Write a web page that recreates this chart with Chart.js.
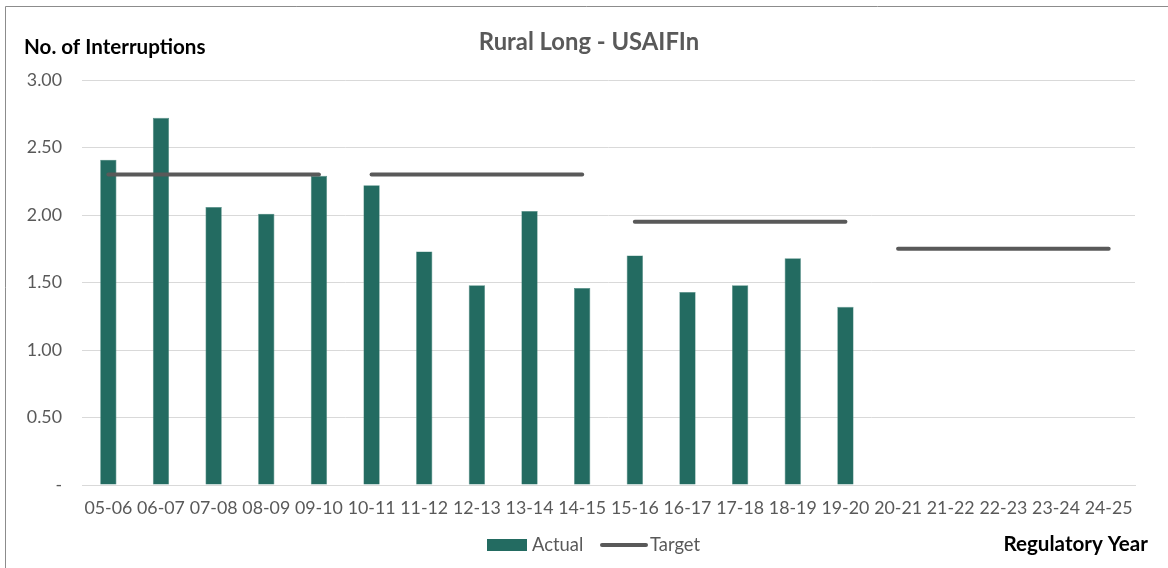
<!DOCTYPE html>
<html>
<head>
<meta charset="utf-8">
<title>Rural Long - USAIFIn</title>
<script src="https://cdn.jsdelivr.net/npm/chart.js@4/dist/chart.umd.min.js"></script>
<style>
  html, body { margin: 0; padding: 0; background: #ffffff; }
  #wrap { position: relative; width: 1168px; height: 568px; }
</style>
</head>
<body>
<div id="wrap"><canvas id="chart" width="1168" height="568"></canvas></div>
<script>
// Regulatory years on the category axis
const years = ['05-06','06-07','07-08','08-09','09-10','10-11','11-12','12-13','13-14','14-15',
               '15-16','16-17','17-18','18-19','19-20','20-21','21-22','22-23','23-24','24-25'];

// Actual unplanned interruptions per year (no data yet for later years)
const actual = [2.41, 2.72, 2.06, 2.01, 2.29, 2.22, 1.73, 1.48, 2.03, 1.46,
                1.70, 1.43, 1.48, 1.68, 1.32, null, null, null, null, null];

// Regulatory target for each year
const target = [2.30, 2.30, 2.30, 2.30, 2.30, 2.30, 2.30, 2.30, 2.30, 2.30,
                1.95, 1.95, 1.95, 1.95, 1.95, 1.75, 1.75, 1.75, 1.75, 1.75];

// First year of each new regulatory period (target line restarts here)
const periodStarts = ['10-11', '15-16', '20-21'];

// Value axis ticks
const yTicks = [0, 0.5, 1.0, 1.5, 2.0, 2.5, 3.0];

const FONT = 'Lato, "Open Sans", sans-serif';
const GREY = '#595959';
const BAR = '#236B61';

const overlay = {
  id: 'overlay',
  beforeDraw(chart) {
    const ctx = chart.ctx;
    ctx.save();
    ctx.fillStyle = '#ffffff';
    ctx.fillRect(0, 0, chart.width, chart.height);
    ctx.strokeStyle = '#8c8c8c';
    ctx.lineWidth = 1;
    ctx.beginPath();
    ctx.moveTo(5.5, chart.height);
    ctx.lineTo(5.5, 6.5);
    ctx.lineTo(chart.width, 6.5);
    ctx.stroke();
    ctx.restore();
  },
  afterDraw(chart) {
    const ctx = chart.ctx;
    ctx.save();
    ctx.textBaseline = 'middle';
    // chart title
    ctx.fillStyle = GREY;
    ctx.font = 'bold 23.8px ' + FONT;
    ctx.textAlign = 'center';
    ctx.fillText('Rural Long - USAIFIn', 589, 42);
    // axis titles
    ctx.fillStyle = '#000000';
    ctx.font = 'bold 20.6px ' + FONT;
    ctx.textAlign = 'left';
    ctx.fillText('No. of Interruptions', 24, 47);
    ctx.textAlign = 'right';
    ctx.fillText('Regulatory Year', 1148, 544);
    // legend
    const ly = 545;
    ctx.fillStyle = BAR;
    ctx.fillRect(487, 539, 40, 12);
    ctx.fillStyle = GREY;
    ctx.font = '18.4px ' + FONT;
    ctx.textAlign = 'left';
    ctx.fillText(chart.data.datasets[0].label, 532, ly);
    ctx.strokeStyle = GREY;
    ctx.lineWidth = 4;
    ctx.lineCap = 'round';
    ctx.beginPath();
    ctx.moveTo(602, ly);
    ctx.lineTo(646, ly);
    ctx.stroke();
    ctx.fillText(chart.data.datasets[1].label, 650, ly);
    ctx.restore();
  }
};

new Chart(document.getElementById('chart'), {
  data: {
    labels: years,
    datasets: [
      {
        type: 'bar',
        label: 'Actual',
        data: actual,
        backgroundColor: BAR,
        borderColor: '#4d8a81',
        borderWidth: 0.6,
        barPercentage: 0.31,
        categoryPercentage: 1.0,
        order: 2
      },
      {
        type: 'line',
        label: 'Target',
        data: target,
        borderColor: GREY,
        borderWidth: 4,
        borderCapStyle: 'round',
        pointRadius: 0,
        pointHoverRadius: 0,
        tension: 0,
        segment: {
          borderColor: c => periodStarts.includes(years[c.p1DataIndex]) ? 'rgba(0,0,0,0)' : GREY
        },
        order: 1
      }
    ]
  },
  options: {
    responsive: false,
    animation: false,
    layout: { padding: { top: 80, right: 33, bottom: 0, left: 0 } },
    plugins: {
      legend: { display: false },
      title: { display: false },
      tooltip: { enabled: false }
    },
    scales: {
      x: {
        grid: { display: false, drawTicks: false },
        border: { display: true, color: '#d9d9d9', width: 1 },
        ticks: {
          color: GREY,
          font: { family: FONT, size: 17.8 },
          padding: 13,
          maxRotation: 0,
          autoSkip: false
        },
        afterFit(scale) { scale.height = 83; }
      },
      y: {
        min: 0,
        max: 3,
        afterBuildTicks(scale) { scale.ticks = yTicks.map(v => ({ value: v })); },
        grid: { color: '#d9d9d9', lineWidth: 1, drawTicks: false },
        border: { display: false },
        ticks: {
          color: GREY,
          font: { family: FONT, size: 17.8 },
          padding: 20,
          callback: v => v === 0 ? '-' : v.toFixed(2)
        },
        afterFit(scale) { scale.width = 82; }
      }
    }
  },
  plugins: [overlay]
});
</script>
</body>
</html>
